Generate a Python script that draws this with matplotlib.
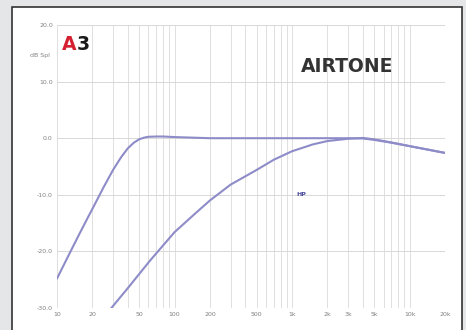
import numpy as np
import matplotlib
matplotlib.use("Agg")
import matplotlib.pyplot as plt
from matplotlib.patches import Rectangle

# full range curve (Hz, dB)
full_freq = [10, 12, 15, 18, 20, 25, 30, 35, 40, 45, 50, 55, 60, 70, 80, 100, 200, 500,
             1000, 2000, 3000, 4000, 5000, 7000, 10000, 15000, 20000]
full_db = [-24.8, -21.5, -17.5, -14.3, -12.5, -8.6, -5.6, -3.4, -1.8, -0.8, -0.2, 0.1,
           0.25, 0.3, 0.3, 0.2, 0.0, 0.0, 0.0, 0.0, 0.0, -0.05, -0.3, -0.8, -1.4,
           -2.1, -2.6]

# high pass curve
hp_freq = [29, 40, 62, 100, 150, 200, 300, 500, 700, 1000, 1500, 2000, 3000,
           4000, 5000, 7000, 10000, 15000, 20000]
hp_db = [-30.0, -26.5, -21.6, -16.6, -13.3, -11.0, -8.2, -5.6, -3.8, -2.3, -1.1,
         -0.5, -0.1, 0.05, -0.2, -0.75, -1.4, -2.1, -2.6]

xtick_vals = [10, 20, 50, 100, 200, 500, 1000, 2000, 3000, 5000, 10000, 20000]
xtick_labels = ["10", "20", "50", "100", "200", "500", "1k", "2k", "3k", "5k", "10k", "20k"]
ytick_vals = [20, 10, 0, -10, -20, -30]
ytick_labels = ["20.0", "10.0", "0.0", "-10.0", "-20.0", "-30.0"]

fig = plt.figure(figsize=(4.66, 3.30), dpi=100)
fig.patch.set_facecolor("#e5e6e8")
# white card with dark border
fig.patches.append(Rectangle((12 / 466, -0.05), (462 - 12) / 466, 1.05 - 7 / 330,
                             transform=fig.transFigure, facecolor="white",
                             edgecolor="#333333", linewidth=1.2, zorder=-1))

ax = fig.add_axes([57 / 466, 22 / 330, (445 - 57) / 466, (308 - 25) / 330])
ax.set_facecolor("none")
ax.set_xscale("log")
ax.set_xlim(10, 20000)
ax.set_ylim(-30, 20)

# grid
minor = [m * 10 ** d for d in range(1, 5) for m in range(1, 10) if m * 10 ** d <= 20000]
for f in minor:
    ax.axvline(f, color="#e0e0e0", lw=0.7, zorder=1)
for y in ytick_vals:
    ax.axhline(y, color="#d8d8d8", lw=0.7, zorder=1)

line_color = "#8e8cc8"
ax.plot(full_freq, full_db, color=line_color, lw=1.5, zorder=3, solid_capstyle="round")
ax.plot(hp_freq, hp_db, color=line_color, lw=1.5, zorder=3, solid_capstyle="round")

ax.set_xticks(xtick_vals)
ax.set_xticklabels(xtick_labels)
ax.xaxis.set_minor_locator(plt.NullLocator())
ax.set_yticks(ytick_vals)
ax.set_yticklabels(ytick_labels)
ax.tick_params(length=0, labelsize=4.5, labelcolor="#808080", pad=3)
for s in ax.spines.values():
    s.set_visible(False)

ax.text(1200, -10.0, "HP", fontsize=4.5, color="#4a4a9a", fontweight="bold",
        ha="center", va="center")
fig.text(30 / 466, 1 - 55 / 330, "dB Spl", fontsize=4.5, color="#808080",
         ha="left", va="center")

# logo and brand
fig.text(62 / 466, 1 - 45 / 330, "A", fontsize=13.5, color="#d42030", fontweight="bold",
         ha="left", va="center", family="DejaVu Sans")
fig.text(77 / 466, 1 - 45 / 330, "3", fontsize=13.5, color="#1a1a1a", fontweight="bold",
         ha="left", va="center", family="DejaVu Sans")
fig.text(347 / 466, 1 - 66 / 330, "AIRTONE", fontsize=13.5, color="#333333",
         fontweight="bold", ha="center", va="center", family="DejaVu Sans")

fig.savefig("out.png", dpi=100, facecolor=fig.get_facecolor())
